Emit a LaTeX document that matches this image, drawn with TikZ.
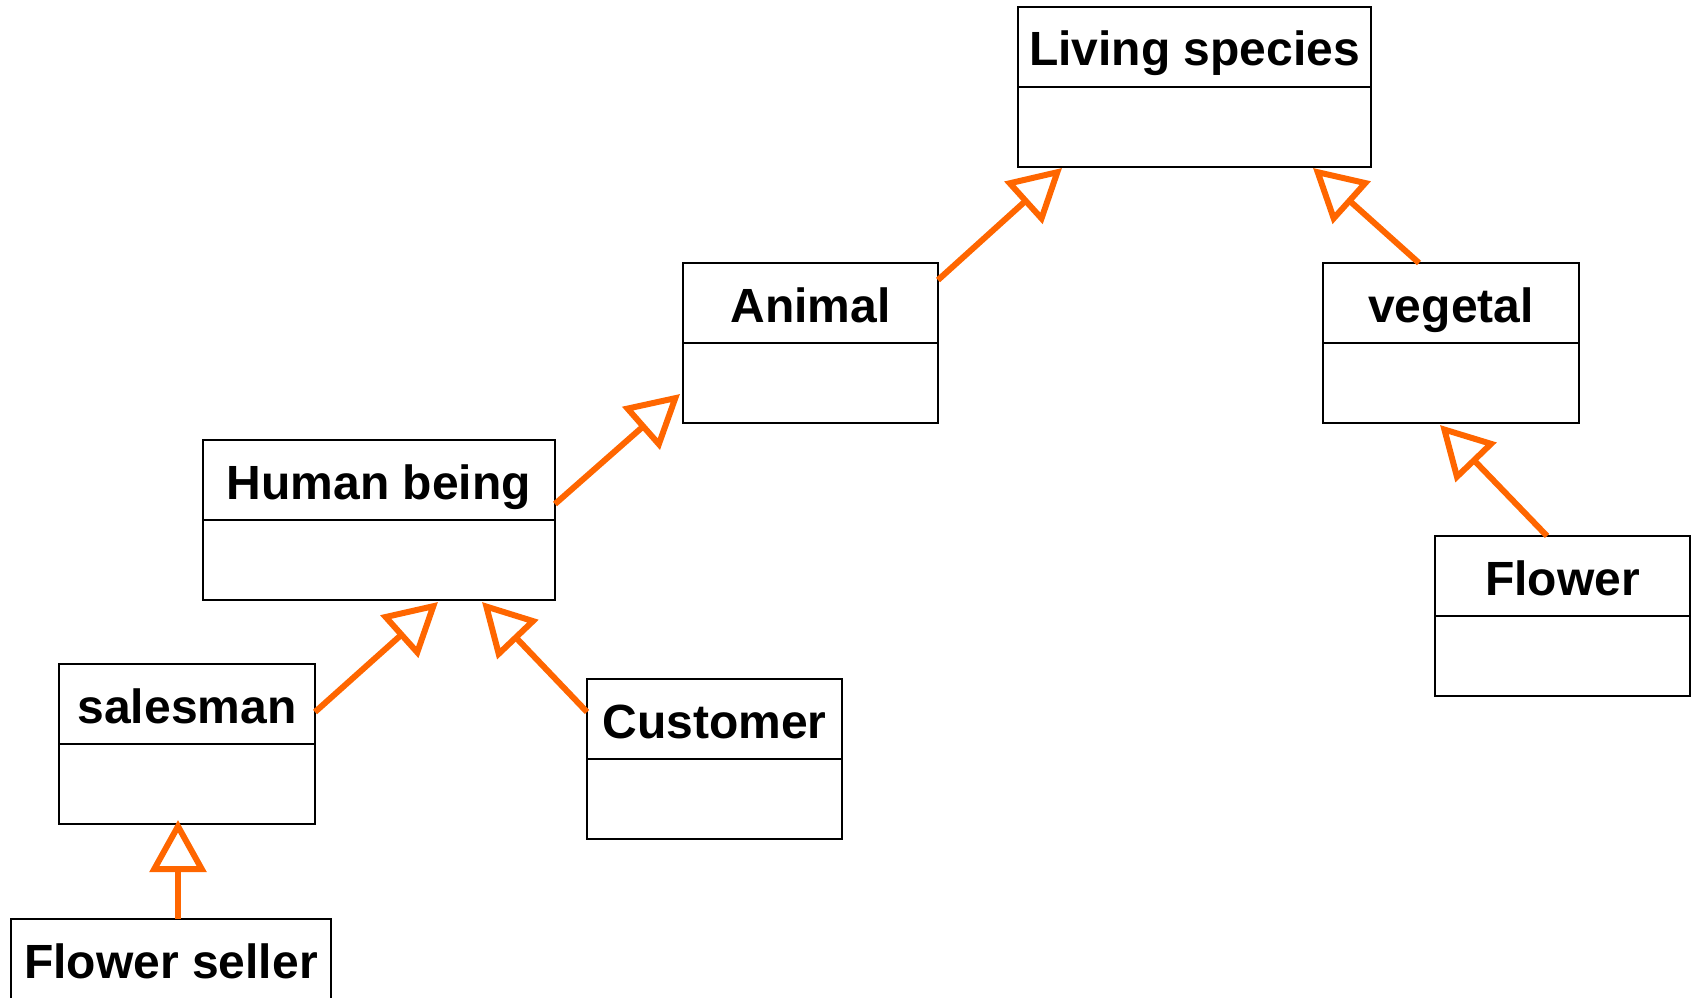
\documentclass[tikz,border=0pt]{standalone}
\usepackage{fontspec}
\setmainfont{Liberation Sans}
\usetikzlibrary{arrows.meta,calc}
\definecolor{inhorange}{RGB}{255,102,0}
\begin{document}
\begin{tikzpicture}[x=1pt,y=-1pt,
    head/.style={draw,line width=2pt,minimum height=80pt,inner sep=0pt,outer sep=0pt,text height=38pt,text depth=0pt,
        font=\fontsize{48}{56}\selectfont\bfseries,anchor=north west},
    body/.style={draw,line width=2pt,minimum height=80pt,inner sep=0pt,outer sep=0pt,anchor=north},
    inherit/.style={inhorange,line width=6pt,-{Triangle[open,length=52pt,width=56pt]}}]
    \useasboundingbox (0,0) rectangle (1691,998);
    % classes
    \node[head,minimum width=353pt] (ls) at (1018,7) {Living species};
    \node[body,minimum width=353pt] (ls-b) at (ls.south) {};
    \node[head,minimum width=255pt] (animal) at (683,263) {Animal};
    \node[body,minimum width=255pt] (animal-b) at (animal.south) {};
    \node[head,minimum width=256pt] (vegetal) at (1323,263) {vegetal};
    \node[body,minimum width=256pt] (vegetal-b) at (vegetal.south) {};
    \node[head,minimum width=352pt] (human) at (203,440) {Human being};
    \node[body,minimum width=352pt] (human-b) at (human.south) {};
    \node[head,minimum width=255pt] (flower) at (1435,536) {Flower};
    \node[body,minimum width=255pt] (flower-b) at (flower.south) {};
    \node[head,minimum width=256pt] (salesman) at (59,664) {salesman};
    \node[body,minimum width=256pt] (salesman-b) at (salesman.south) {};
    \node[head,minimum width=255pt] (customer) at (587,679) {Customer};
    \node[body,minimum width=255pt] (customer-b) at (customer.south) {};
    \node[head,minimum width=320pt] (seller) at (11,919) {Flower seller};
    \node[body,minimum width=320pt] (seller-b) at (seller.south) {};
    % inheritance
    \draw[inherit] ($(animal.north east)+(0,17)$) -- ($(ls-b.south west)+(44,1)$);
    \draw[inherit] ($(vegetal.north west)+(96,0)$) -- ($(ls-b.south east)+(-58,1)$);
    \draw[inherit] ($(human.north east)+(0,64)$) -- ($(animal-b.south west)+(-3,-29)$);
    \draw[inherit] ($(salesman.north east)+(0,48)$) -- ($(human-b.south west)+(235,2)$);
    \draw[inherit] ($(customer.north west)+(0,33)$) -- ($(human-b.south west)+(279,2)$);
    \draw[inherit] ($(flower.north west)+(112,0)$) -- ($(vegetal-b.south west)+(117,2)$);
    \draw[inherit] ($(seller.north west)+(167,0)$) -- ($(salesman-b.south west)+(119,-4)$);
\end{tikzpicture}
\end{document}
